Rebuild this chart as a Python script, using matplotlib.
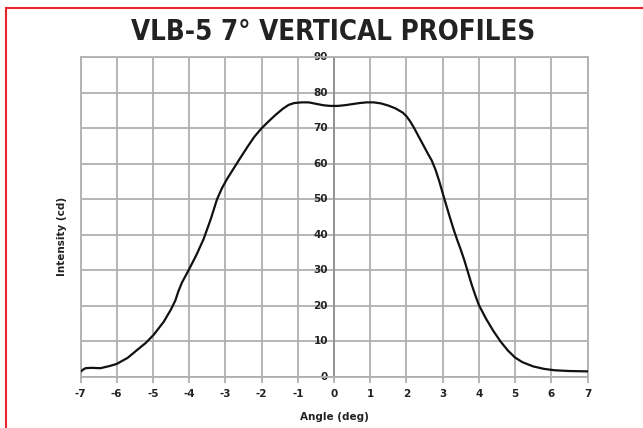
import matplotlib
matplotlib.use("Agg")
import matplotlib.pyplot as plt
from matplotlib.patches import Rectangle
from matplotlib import font_manager

plt.rcParams['axes.unicode_minus'] = False

# profile
angle = [-7.0, -6.93, -6.86, -6.7, -6.45, -6.2, -6.0, -5.7, -5.44, -5.2,
         -4.98, -4.7, -4.5, -4.38, -4.3, -4.2, -4.0, -3.8, -3.6, -3.4,
         -3.23, -3.1, -2.96, -2.8, -2.59, -2.4, -2.2, -2.0, -1.8, -1.6,
         -1.4, -1.25, -1.1, -0.9, -0.7, -0.5, -0.3, -0.1, 0.1, 0.3,
         0.5, 0.7, 0.9, 1.1, 1.3, 1.5, 1.7, 1.9, 2.0, 2.1,
         2.2, 2.3, 2.4, 2.5, 2.6, 2.7, 2.8, 2.9, 3.03, 3.2,
         3.3, 3.4, 3.5, 3.6, 3.7, 3.8, 3.9, 4.0,
         4.2, 4.4, 4.6, 4.8, 5.0, 5.2, 5.5, 5.8, 6.1, 6.5, 7.0]
intensity = [1.4, 2.0, 2.4, 2.5, 2.4, 3.0, 3.6, 5.3, 7.5, 9.5,
             11.8, 15.5, 19.0, 21.5, 24.0, 26.5, 30.3, 34.3, 38.8, 44.5,
             50.0, 53.0, 55.6, 58.2, 61.6, 64.6, 67.6, 70.0, 72.0, 73.9,
             75.6, 76.6, 77.1, 77.3, 77.3, 76.9, 76.5, 76.3, 76.3, 76.5,
             76.8, 77.1, 77.3, 77.3, 77.0, 76.4, 75.6, 74.4, 73.4, 72.0,
             70.3, 68.4, 66.5, 64.6, 62.7, 60.9, 58.4, 55.3, 50.7, 44.9,
             41.6, 38.6, 35.8, 32.8, 29.4, 26.0, 23.0, 20.2,
             16.3, 12.9, 9.9, 7.4, 5.4, 4.1, 2.9, 2.2, 1.8, 1.6, 1.5]
xticks = list(range(-7, 8))
yticks = list(range(0, 91, 10))

fig = plt.figure(figsize=(6.43, 4.28), dpi=100)
ax = fig.add_axes([80.5 / 643, 1 - 376.7 / 428, 507 / 643, 319.4 / 428])

ax.plot(angle, intensity, color='#111111', lw=1.6, zorder=3,
        solid_joinstyle='round')

ax.set_xlim(-7, 7)
ax.set_ylim(0, 90)
ax.set_xticks(xticks)
ax.set_yticks(yticks)
ax.grid(True, color='#b0b0b0', lw=1.3, zorder=0)
ax.set_axisbelow(True)
for s in ax.spines.values():
    s.set_color('#b0b0b0')
    s.set_linewidth(1.3)
ax.tick_params(axis='x', length=4, color='#b0b0b0', width=1.3, pad=5,
               labelsize=7.5)
ax.tick_params(axis='y', length=0, left=False, labelleft=False)
for lbl in ax.get_xticklabels():
    lbl.set_fontweight('bold')
    lbl.set_color('#222222')

# y axis drawn at x=0
ax.axvline(0, color='#909090', lw=1.3, zorder=1)
for v in yticks:
    ax.text(-0.17, v, str(v), ha='right', va='center', fontsize=7.5,
            fontweight='bold', color='#222222', zorder=2)

ax.set_xlabel('Angle (deg)', fontsize=7.5, fontweight='bold',
              color='#222222', labelpad=9)
fig.text(62 / 643, 1 - 236 / 428, 'Intensity (cd)', rotation=90,
         ha='center', va='center', fontsize=7.5, fontweight='bold',
         color='#222222')

title_fp = font_manager.FontProperties(family='DejaVu Sans', weight='bold',
                                       stretch='condensed', size=19.8)
fig.text(333 / 643, 1 - 32 / 428, 'VLB-5 7° VERTICAL PROFILES',
         ha='center', va='center', fontproperties=title_fp, color='#222222')

fig.patches.append(Rectangle((5.5 / 643, -0.1), 1.2, 1 - 8.5 / 428 + 0.1,
                             transform=fig.transFigure, fill=False,
                             edgecolor='#e8262b', lw=1.5))

fig.savefig('out.png', dpi=100)
